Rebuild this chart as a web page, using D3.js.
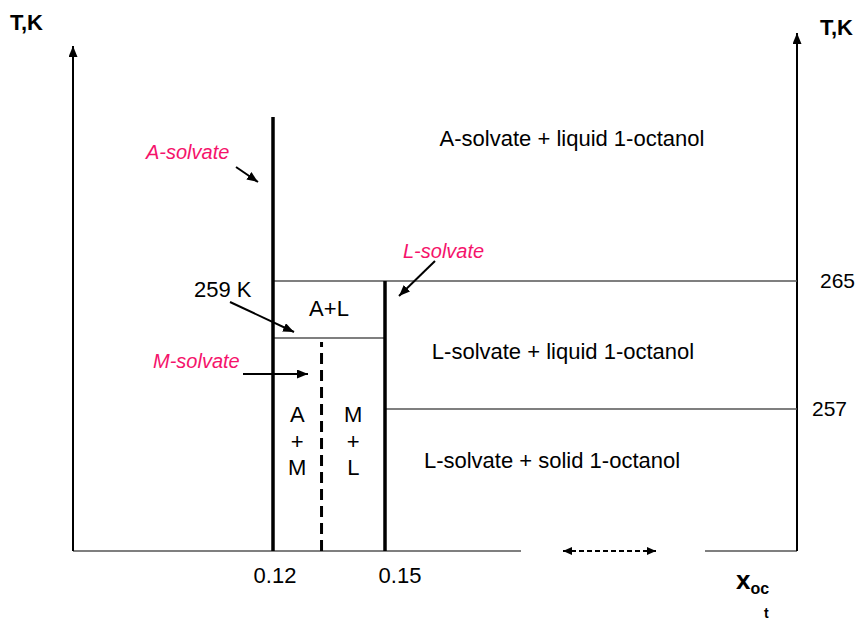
<!DOCTYPE html>
<html>
<head>
<meta charset="utf-8">
<script src="https://cdn.jsdelivr.net/npm/d3@7"></script>
<style>
  html, body { margin: 0; padding: 0; background: #fff; }
  svg { display: block; font-family: "Liberation Sans", Arial, sans-serif; }
</style>
</head>
<body>
<svg id="diagram" width="857" height="622"></svg>
<script>
// composition ticks (mole fraction of octanol) and temperature ticks
const compTicks = [0.12, 0.15];
const tempTicks = [265, 257];
const peritecticT = 259;
const mSolvateX = 0.133;

// phase boundaries: vertical (composition) lines
const verticals = [
    { x: 0.12, t0: 250, t1: 272, kind: "solid" },
    { x: 0.15, t0: 250, t1: 265, kind: "solid" },
    { x: mSolvateX, t0: 250, t1: peritecticT, kind: "dashed" }
];

// horizontal isotherms
const isotherms = [
    { t: 265, x0: 0.12, x1: 1 },
    { t: peritecticT, x0: 0.12, x1: 0.15 },
    { t: 257, x0: 0.15, x1: 1 }
];

const regionLabels = ["A-solvate + liquid 1-octanol", "L-solvate + liquid 1-octanol", "L-solvate + solid 1-octanol", "A+L"];
const stackLabels = [["A", "+", "M"], ["M", "+", "L"]];
const solvateLabels = ["A-solvate", "L-solvate", "M-solvate"];

const svg = d3.select("#diagram");

// schematic (piecewise) scales
const x = d3.scaleLinear().domain([0, 0.12, 0.15, 1]).range([73, 273, 385, 797]);
const y = d3.scaleLinear().domain([250, 257, 259, 265, 272]).range([551, 409, 338, 281, 117]);

const defs = svg.append("defs");
const marker = (id, w, h) => defs.append("marker")
    .attr("id", id)
    .attr("viewBox", `0 0 ${w} ${h}`)
    .attr("refX", w).attr("refY", h / 2)
    .attr("markerWidth", w).attr("markerHeight", h)
    .attr("markerUnits", "userSpaceOnUse")
    .attr("orient", "auto-start-reverse")
    .append("path")
    .attr("d", `M0,0L${w},${h / 2}L0,${h}Z`)
    .attr("fill", "#000");
marker("head", 11, 9);
marker("axisHead", 11, 9);
marker("smallHead", 9, 8);

// baseline (broken)
const base = y(250);
[[x(0), 521], [705, x(1)]].forEach(([a, b]) => {
    svg.append("line")
        .attr("x1", a).attr("x2", b)
        .attr("y1", base).attr("y2", base)
        .attr("stroke", "#555").attr("stroke-width", 1.5);
});
svg.append("line")
    .attr("x1", 563).attr("x2", 656)
    .attr("y1", base).attr("y2", base)
    .attr("stroke", "#000").attr("stroke-width", 2.2)
    .attr("stroke-dasharray", "5 3")
    .attr("marker-start", "url(#smallHead)")
    .attr("marker-end", "url(#smallHead)");

// temperature axes
svg.append("line")
    .attr("x1", x(0)).attr("x2", x(0))
    .attr("y1", base).attr("y2", 46)
    .attr("stroke", "#000").attr("stroke-width", 2)
    .attr("marker-end", "url(#axisHead)");
svg.append("line")
    .attr("x1", x(1)).attr("x2", x(1))
    .attr("y1", base).attr("y2", 33)
    .attr("stroke", "#000").attr("stroke-width", 2)
    .attr("marker-end", "url(#axisHead)");

// isotherms
svg.selectAll(".iso")
    .data(isotherms)
    .join("line")
    .attr("class", "iso")
    .attr("x1", d => x(d.x0)).attr("x2", d => x(d.x1))
    .attr("y1", d => y(d.t)).attr("y2", d => y(d.t))
    .attr("stroke", "#555").attr("stroke-width", 1.5);

// vertical phase lines
svg.selectAll(".vert")
    .data(verticals)
    .join("line")
    .attr("class", "vert")
    .attr("x1", d => x(d.x)).attr("x2", d => x(d.x))
    .attr("y1", d => y(d.t0))
    .attr("y2", d => d.kind === "dashed" ? y(d.t1) + 4 : y(d.t1))
    .attr("stroke", "#000")
    .attr("stroke-width", d => d.kind === "dashed" ? 3 : 3.5)
    .attr("stroke-dasharray", d => d.kind === "dashed" ? "11 6" : null);

// tick labels
svg.selectAll(".xtick")
    .data(compTicks)
    .join("text")
    .attr("class", "xtick")
    .attr("x", (d, i) => x(d) + (i === 0 ? 2 : 15))
    .attr("y", 583)
    .attr("text-anchor", "middle")
    .attr("font-size", 22)
    .text(d => d.toFixed(2));

svg.selectAll(".ytick")
    .data(tempTicks)
    .join("text")
    .attr("class", "ytick")
    .attr("x", (d, i) => i === 0 ? 820 : 812)
    .attr("y", d => y(d) + 7)
    .attr("font-size", 21)
    .text(d => d);

// axis titles
svg.append("text").attr("x", 10).attr("y", 30)
    .attr("font-size", 22).attr("font-weight", "bold").text("T,K");
svg.append("text").attr("x", 820).attr("y", 35)
    .attr("font-size", 22).attr("font-weight", "bold").text("T,K");
const xt = svg.append("text").attr("x", 736).attr("y", 589)
    .attr("font-weight", "bold");
xt.append("tspan").attr("font-size", 26).text("x");
xt.append("tspan").attr("font-size", 16).attr("dy", 5).text("oc");
svg.append("text").attr("x", 764).attr("y", 618)
    .attr("font-size", 14).attr("font-weight", "bold").text("t");

// region labels
const regionPos = [[572, 146], [563, 359], [552, 468], [329, 316]];
svg.selectAll(".region")
    .data(regionLabels)
    .join("text")
    .attr("class", "region")
    .attr("x", (_, i) => regionPos[i][0])
    .attr("y", (_, i) => regionPos[i][1])
    .attr("text-anchor", "middle")
    .attr("font-size", 22)
    .text(d => d);

// stacked two-phase labels
const stackCols = [(x(0.12) + x(mSolvateX)) / 2, (x(mSolvateX) + x(0.15)) / 2];
stackLabels.forEach((col, i) => {
    svg.selectAll(`.stack${i}`)
        .data(col)
        .join("text")
        .attr("x", stackCols[i])
        .attr("y", (_, j) => 422 + j * 26.5)
        .attr("text-anchor", "middle")
        .attr("font-size", 22)
        .text(d => d);
});

// 259 K label
svg.append("text").attr("x", 194).attr("y", 297)
    .attr("font-size", 22).text(`${peritecticT} K`);

// solvate labels (pink italic)
const solvatePos = [[146, 159], [403, 258], [153, 368]];
svg.selectAll(".solv")
    .data(solvateLabels)
    .join("text")
    .attr("class", "solv")
    .attr("x", (_, i) => solvatePos[i][0])
    .attr("y", (_, i) => solvatePos[i][1])
    .attr("font-size", 20)
    .attr("font-style", "italic")
    .attr("fill", "#f5136b")
    .text(d => d);

// pointer arrows
const pointers = [
    [[236, 167], [258, 182]],
    [[435, 261], [399, 296]],
    [[230, 302], [294, 332]],
    [[243, 374], [308, 374]]
];
svg.selectAll(".ptr")
    .data(pointers)
    .join("line")
    .attr("class", "ptr")
    .attr("x1", d => d[0][0]).attr("y1", d => d[0][1])
    .attr("x2", d => d[1][0]).attr("y2", d => d[1][1])
    .attr("stroke", "#000").attr("stroke-width", 2)
    .attr("marker-end", "url(#head)");
</script>
</body>
</html>
